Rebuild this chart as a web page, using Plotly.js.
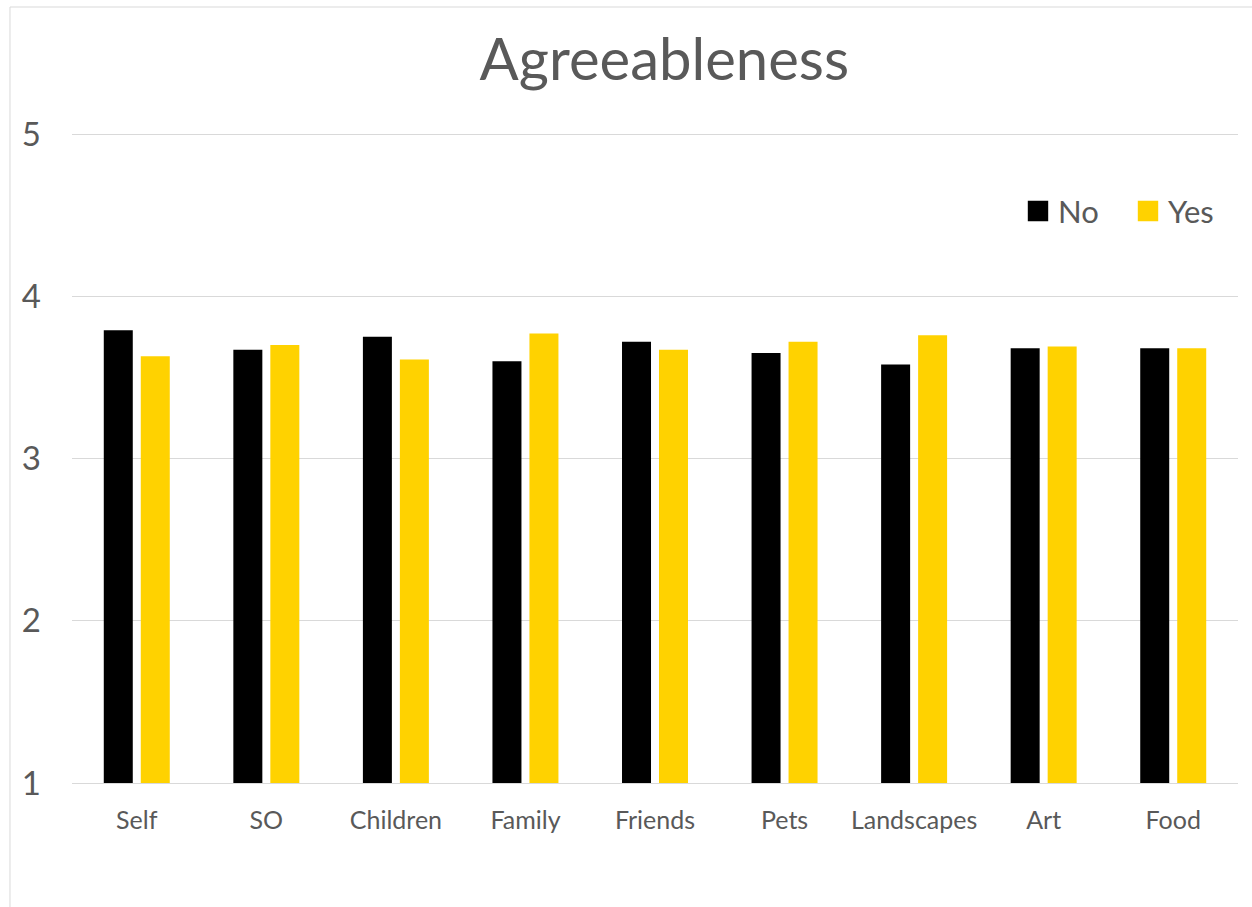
<!DOCTYPE html>
<html>
<head>
<meta charset="utf-8">
<script src="https://cdn.plot.ly/plotly-3.0.1.min.js"></script>
<style>
  html, body { margin: 0; padding: 0; background: #ffffff; }
  #chart { width: 1252px; height: 907px; }
</style>
</head>
<body>
<div id="chart"></div>
<script>
const categories = ["Self", "SO", "Children", "Family", "Friends", "Pets", "Landscapes", "Art", "Food"];
const noValues  = [3.79, 3.67, 3.75, 3.60, 3.72, 3.65, 3.58, 3.68, 3.68];
const yesValues = [3.63, 3.70, 3.61, 3.77, 3.67, 3.72, 3.76, 3.69, 3.68];
const seriesNames = ["No", "Yes"];
const yTicks = [1, 2, 3, 4, 5];
const chartTitle = "Agreeableness";

const FONT = "Lato, 'Open Sans', sans-serif";
const GREY = "#595959";

const traces = [
  { type: "bar", name: seriesNames[0], x: categories, y: noValues,
    marker: { color: "#000000" }, hoverinfo: "x+y+name" },
  { type: "bar", name: seriesNames[1], x: categories, y: yesValues,
    marker: { color: "#FFD200" }, hoverinfo: "x+y+name" }
];

const layout = {
  width: 1252, height: 907,
  margin: { l: 72, r: 14, t: 132, b: 124, pad: 0 },
  paper_bgcolor: "#ffffff", plot_bgcolor: "#ffffff",
  font: { family: FONT, color: GREY },
  title: {
    text: chartTitle,
    font: { family: FONT, size: 58, color: GREY },
    x: 0.508, xref: "paper", xanchor: "center",
    y: 0.934, yref: "container", yanchor: "middle"
  },
  barmode: "group",
  bargap: 0.429,
  bargroupgap: 0.216,
  xaxis: {
    type: "category",
    tickfont: { family: FONT, size: 25, color: GREY },
    showgrid: false,
    showline: true, linecolor: "#d9d9d9", linewidth: 1,
    ticks: "",
    ticklabelstandoff: 15,
    fixedrange: true
  },
  yaxis: {
    range: [1, 5.0125],
    tickvals: yTicks,
    ticktext: yTicks.map(String),
    tickfont: { family: FONT, size: 33, color: GREY },
    showgrid: true, gridcolor: "#d9d9d9", gridwidth: 1,
    zeroline: false,
    showline: false,
    ticks: "",
    ticklabelstandoff: 30,
    fixedrange: true
  },
  legend: {
    orientation: "h",
    x: 1.0, xanchor: "right",
    y: 0.878, yanchor: "middle",
    font: { family: FONT, size: 31, color: GREY },
    bgcolor: "rgba(0,0,0,0)",
    traceorder: "normal",
    entrywidth: 65,
    entrywidthmode: "pixels"
  },
  shapes: [
    { type: "rect", xref: "paper", yref: "paper",
      x0: -0.0532, x1: 1.03, y0: -0.3, y1: 1.192,
      line: { color: "#d9d9d9", width: 1 }, fillcolor: "rgba(0,0,0,0)", layer: "below" }
  ]
};

Plotly.newPlot("chart", traces, layout, { displayModeBar: false, staticPlot: true }).then(function (gd) {
  gd.querySelectorAll(".legend .legendpoints path").forEach(function (p) {
    p.setAttribute("transform", "translate(20,0) scale(1.7)");
  });
});
</script>
</body>
</html>
